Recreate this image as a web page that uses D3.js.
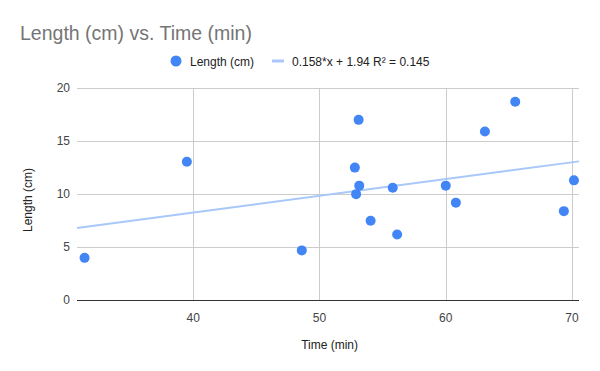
<!DOCTYPE html>
<html>
<head>
<meta charset="utf-8">
<script src="https://cdn.jsdelivr.net/npm/d3@7"></script>
<style>
  body { margin: 0; background: #fff; }
  svg { font-family: "Liberation Sans", Arial, sans-serif; }
</style>
</head>
<body>
<div id="chart"></div>
<script>
// data
const time_min = [31.4, 39.5, 48.6, 53.1, 52.8, 53.15, 52.9, 54.05, 55.8, 56.15, 60.0, 60.8, 63.1, 65.5, 69.35, 70.15];
const length_cm = [4.0, 13.05, 4.7, 17.0, 12.5, 10.8, 10.0, 7.5, 10.6, 6.2, 10.8, 9.2, 15.9, 18.7, 8.4, 11.3];
const x_ticks = [40, 50, 60, 70];
const y_ticks = [0, 5, 10, 15, 20];
const trend_slope = 0.158, trend_icept = 1.94;
const trend_label = "0.158*x + 1.94 R\u00b2 = 0.145";

const width = 600, height = 371;
const margin = {top: 88, right: 21, bottom: 71, left: 77};

const svg = d3.select("#chart")
  .append("svg")
    .attr("width", width)
    .attr("height", height);

const x = d3.scaleLinear()
  .domain([30.8, 70.55])
  .range([margin.left, width - margin.right]);

const y = d3.scaleLinear()
  .domain([0, 20])
  .range([height - margin.bottom + 0.3, margin.top]);

// title
svg.append("text")
  .attr("x", 20).attr("y", 40)
  .attr("font-size", 19.5)
  .attr("fill", "#757575")
  .text("Length (cm) vs. Time (min)");

// legend
const lg = svg.append("g").attr("font-size", 12).attr("fill", "#222");
lg.append("circle").attr("cx", 176).attr("cy", 61).attr("r", 5.5).attr("fill", "#4285f4");
lg.append("text").attr("x", 190).attr("y", 65.5).text("Length (cm)");
lg.append("line").attr("x1", 272).attr("x2", 284).attr("y1", 61).attr("y2", 61)
  .attr("stroke", "#a9c8fa").attr("stroke-width", 3);
lg.append("text").attr("x", 292).attr("y", 65.5).text(trend_label);

// gridlines
svg.append("g")
  .selectAll("line")
  .data(y_ticks.filter(d => d > 0))
  .join("line")
    .attr("x1", margin.left).attr("x2", width - margin.right)
    .attr("y1", d => Math.round(y(d)) + 0.5).attr("y2", d => Math.round(y(d)) + 0.5)
    .attr("stroke", "#cccccc");

svg.append("g")
  .selectAll("line")
  .data(x_ticks)
  .join("line")
    .attr("x1", d => Math.round(x(d)) + 0.5).attr("x2", d => Math.round(x(d)) + 0.5)
    .attr("y1", margin.top).attr("y2", y(0))
    .attr("stroke", "#cccccc");

// y axis labels
svg.append("g")
  .selectAll("text")
  .data(y_ticks)
  .join("text")
    .attr("x", 70).attr("y", d => y(d) + 4)
    .attr("text-anchor", "end")
    .attr("font-size", 12)
    .attr("fill", "#444")
    .text(d => d);

// x axis labels
svg.append("g")
  .selectAll("text")
  .data(x_ticks)
  .join("text")
    .attr("x", d => x(d)).attr("y", 322)
    .attr("text-anchor", "middle")
    .attr("font-size", 12)
    .attr("fill", "#444")
    .text(d => d);

// baseline
svg.append("line")
  .attr("x1", margin.left).attr("x2", width - margin.right)
  .attr("y1", Math.round(y(0)) + 0.5).attr("y2", Math.round(y(0)) + 0.5)
  .attr("stroke", "#333");

// axis titles
svg.append("text")
  .attr("x", x(50.8)).attr("y", 349)
  .attr("text-anchor", "middle")
  .attr("font-size", 12).attr("fill", "#222")
  .text("Time (min)");

svg.append("text")
  .attr("transform", "translate(32,200) rotate(-90)")
  .attr("text-anchor", "middle")
  .attr("font-size", 12).attr("fill", "#222")
  .text("Length (cm)");

// trendline
const xd = x.domain();
svg.append("line")
  .attr("x1", x(xd[0])).attr("y1", y(trend_slope * xd[0] + trend_icept))
  .attr("x2", x(xd[1])).attr("y2", y(trend_slope * xd[1] + trend_icept))
  .attr("stroke", "#a9c8fa").attr("stroke-width", 2);

// points
svg.append("g")
  .selectAll("circle")
  .data(time_min.map((t, i) => [t, length_cm[i]]))
  .join("circle")
    .attr("cx", d => x(d[0]))
    .attr("cy", d => y(d[1]))
    .attr("r", 5)
    .attr("fill", "#4285f4");
</script>
</body>
</html>
